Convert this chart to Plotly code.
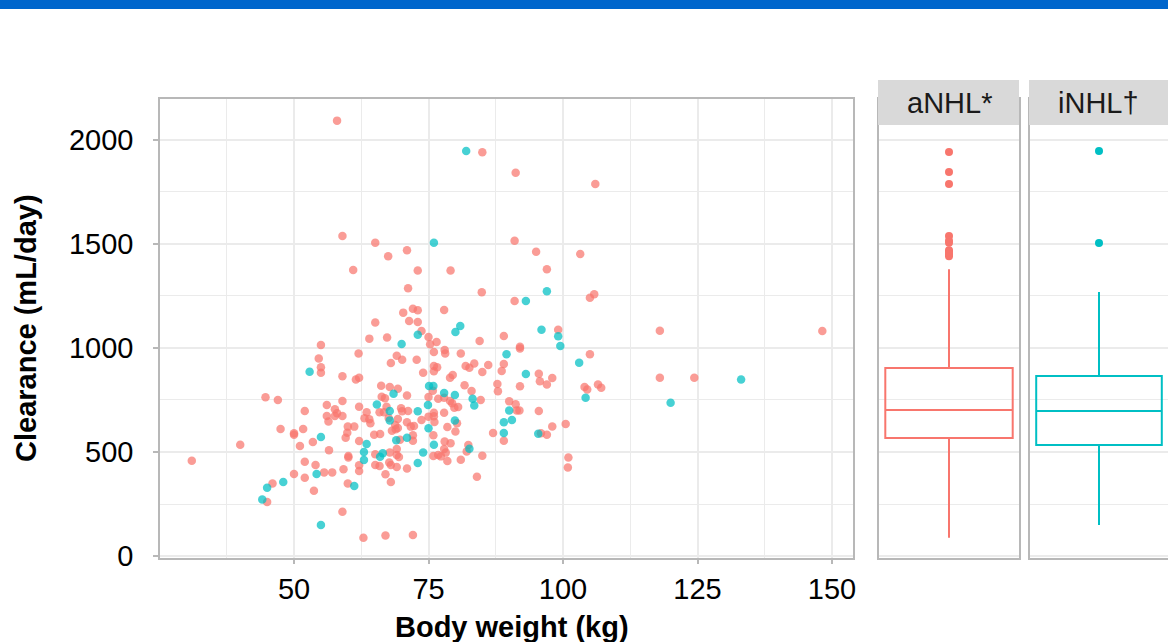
import plotly.graph_objects as go

W, H = 1168, 642

# ---- Scatter data: aNHL (red) ----
anhl_weight = [58.0, 85.0, 59.0, 65.1, 71.0, 67.5, 61.0, 73.0, 79.1, 71.2, 84.9, 72.1, 70.3, 73.0, 77.9, 65.1, 71.4, 73.0,
               91.2, 106.0, 91.0, 95.0, 103.2, 97.0, 91.0, 105.8, 105.0,
               99.1, 118.0, 148.2, 89.0, 92.0, 92.0, 105.0, 89.0, 88.6, 95.5, 98.0, 95.7, 97.0, 92.0, 118.0, 124.4,
               104.0, 104.5, 106.5, 107.1, 90.0, 91.2, 91.4, 91.9, 95.5, 98.0, 100.5, 95.9, 97.0, 89.0, 101.0, 100.9,
               73.7, 75.0, 76.5, 75.3, 64.0, 67.3, 84.5, 55.0, 62.0, 78.0, 78.1, 76.0, 81.0, 69.1, 70.1, 72.8, 68.0,
               54.6, 55.0, 55.0, 59.0, 61.5, 62.1, 76.0, 76.6, 76.0, 74.0, 79.5, 79.0, 81.9, 82.6, 83.5, 86.1, 85.0,
               81.7, 87.8, 87.9, 83.0, 75.8, 66.2, 67.8, 69.3, 71.0, 66.3, 66.9, 75.0, 76.8, 77.9, 79.0, 84.7, 79.4,
               80.5, 79.8, 44.7, 47.0, 56.1, 59.0, 52.0, 57.6, 58.0, 56.1, 57.6, 59.0, 56.4, 62.1, 63.5, 63.1, 64.0,
               64.2, 67.2, 66.7, 65.9, 67.6, 69.9, 70.1, 71.2, 69.3, 71.0, 72.3, 71.7, 73.7, 75.0, 76.0, 76.0, 76.1,
               77.9, 78.5, 80.3, 80.0, 75.9, 72.1, 72.1, 69.7, 68.9, 68.8, 69.3, 68.2, 66.0, 64.9, 62.1, 60.0, 61.2,
               59.9, 59.6, 60.1, 60.1, 65.1, 65.1, 65.9, 67.8, 69.1, 69.5, 69.1, 67.7, 68.0, 69.1, 71.0, 78.0, 79.1,
               77.9, 78.2, 76.8, 77.3, 75.9, 78.5, 81.0, 82.4, 82.1, 85.0, 84.0, 87.0, 62.1, 62.1, 59.2, 57.1, 55.6,
               54.0, 52.0, 53.5, 56.5, 51.1, 51.7, 50.0, 50.0, 47.5, 40.0, 31.0, 52.0, 50.0, 53.7, 46.0, 45.0, 60.0,
               59.0, 62.9, 67.0, 72.1, 68.0, 67.0]
anhl_clear = [2093, 1941, 1538, 1506, 1470, 1441, 1375, 1372, 1372, 1287, 1268, 1189, 1170, 1181, 1183, 1122, 1130, 1125,
              1843, 1788, 1516, 1463, 1452, 1378, 1226, 1258, 1242,
              1088, 1083, 1082, 1058, 1006, 998, 970, 923, 889, 876, 856, 840, 825, 816, 857, 857,
              812, 800, 825, 809, 744, 729, 699, 699, 697, 623, 635, 590, 583, 554, 473, 426,
              1082, 1053, 1029, 1018, 1045, 1050, 1034, 1014, 974, 990, 974, 981, 974, 963, 944, 944, 928,
              950, 907, 881, 864, 848, 857, 913, 907, 888, 881, 870, 857, 913, 905, 925, 918, 885,
              821, 827, 792, 793, 795, 819, 812, 804, 772, 766, 758, 764, 756, 761, 745, 750, 734,
              716, 713, 763, 750, 726, 745, 697, 705, 686, 673, 673, 673, 647, 718, 691, 662, 657,
              638, 718, 691, 691, 663, 710, 696, 697, 659, 643, 625, 622, 654, 670, 689, 672, 644,
              689, 620, 638, 598, 580, 580, 554, 559, 609, 630, 615, 602, 587, 583, 553, 622, 622,
              593, 569, 481, 473, 489, 438, 433, 498, 486, 476, 514, 450, 438, 428, 421, 551, 542,
              514, 497, 486, 479, 481, 457, 463, 534, 502, 482, 381, 591, 436, 409, 417, 402, 402,
              438, 453, 548, 508, 529, 611, 583, 590, 611, 535, 458, 376, 394, 314, 349, 260, 349,
              213, 88, 99, 101, 356, 393]

# ---- Scatter data: iNHL (teal) ----
inhl_weight = [82.0, 76.0, 80.9, 97.0, 93.1, 96.0, 99.1, 99.5, 89.5, 103.0, 93.1, 133.1, 104.2, 120.0, 90.0, 89.0,
               90.5, 89.0, 95.4, 80.0, 73.0, 70.0, 52.9, 75.1, 75.9, 68.5, 77.9, 79.9, 83.2, 83.5, 65.4, 67.8,
               67.8, 73.0, 74.9, 75.0, 79.9, 71.0, 69.0, 63.5, 63.0, 63.0, 66.0, 66.5, 73.0, 74.0, 76.0, 82.6,
               54.2, 55.0, 48.0, 45.0, 44.1, 61.2, 55.0]
inhl_clear = [1947, 1506, 1106, 1273, 1226, 1088, 1056, 1010, 970, 929, 875, 848, 761, 737, 700, 643,
              654, 591, 588, 1077, 1064, 1019, 886, 817, 817, 780, 784, 774, 756, 723, 728, 697,
              652, 696, 726, 614, 651, 569, 556, 538, 500, 462, 477, 494, 447, 498, 535, 516,
              394, 572, 356, 328, 272, 337, 149]

# ---- Box plot summaries read from the facets ----
box_groups = ["aNHL*", "iNHL†"]
box_q1 = [567, 534]
box_median = [702, 697]
box_q3 = [904, 865]
box_lower = [88, 149]
box_upper = [1378, 1269]
anhl_outliers = [1942, 1846, 1788, 1538, 1516, 1506, 1470, 1463, 1452, 1441]
inhl_outliers = [1947, 1505]

x_ticks = [50, 75, 100, 125, 150]
x_minor = [37.5, 62.5, 87.5, 112.5, 137.5]
y_ticks = [0, 500, 1000, 1500, 2000]
y_minor = [250, 750, 1250, 1750]

RED = "#F8766D"
TEAL = "#00BFC4"
GRID = "#EBEBEB"
BORDER = "#B8B8B8"
FONT = "Liberation Sans, Arial, sans-serif"
FS = 29


def px_x(p):
    return p / W


def px_y(p):
    return 1 - p / H


fig = go.Figure()

fig.add_trace(go.Scatter(x=anhl_weight, y=anhl_clear, mode="markers",
                         marker=dict(color=RED, size=8.5, opacity=0.72, line=dict(width=0)),
                         xaxis="x", yaxis="y", showlegend=False))
fig.add_trace(go.Scatter(x=inhl_weight, y=inhl_clear, mode="markers",
                         marker=dict(color=TEAL, size=8.5, opacity=0.72, line=dict(width=0)),
                         xaxis="x", yaxis="y", showlegend=False))

colors = [RED, TEAL]
outs = [anhl_outliers, inhl_outliers]
for i in range(2):
    xa = "x%d" % (i + 2)
    ya = "y%d" % (i + 2)
    fig.add_trace(go.Box(x=[0], q1=[box_q1[i]], median=[box_median[i]], q3=[box_q3[i]],
                         lowerfence=[box_lower[i]], upperfence=[box_upper[i]],
                         width=0.91, whiskerwidth=0, fillcolor="rgba(255,255,255,0)",
                         line=dict(color=colors[i], width=2), boxpoints=False,
                         xaxis=xa, yaxis=ya, showlegend=False, name=box_groups[i]))
    fig.add_trace(go.Scatter(x=[0] * len(outs[i]), y=outs[i], mode="markers",
                             marker=dict(color=colors[i], size=8, line=dict(width=0)),
                             xaxis=xa, yaxis=ya, showlegend=False))

ydom = [px_y(558), px_y(99)]
yrange = [-9.6, 2197]

common_y = dict(domain=ydom, range=yrange, tickvals=y_ticks, showgrid=True, gridcolor=GRID, gridwidth=1.5,
                minor=dict(tickvals=y_minor, showgrid=True, gridcolor=GRID, gridwidth=1.2, ticks=""),
                zeroline=False, showline=True, linecolor=BORDER, linewidth=1.5, mirror=True,
                automargin=False)

fig.update_layout(
    template="none",
    width=W, height=H, margin=dict(l=0, r=0, t=0, b=0, pad=0, autoexpand=False),
    paper_bgcolor="white", plot_bgcolor="white",
    font=dict(family=FONT, size=FS, color="#000000"),
    xaxis=dict(domain=[px_x(160), px_x(853)], range=[25.09, 153.9], tickvals=x_ticks,
               ticks="outside", ticklen=4, tickcolor=BORDER, tickwidth=1.5,
               showgrid=True, gridcolor=GRID, gridwidth=1.5,
               minor=dict(tickvals=x_minor, showgrid=True, gridcolor=GRID, gridwidth=1.2, ticks=""),
               zeroline=False, showline=True, linecolor=BORDER, linewidth=1.5, mirror=True,
               tickfont=dict(size=FS, color="#000000"), anchor="y", automargin=False),
    yaxis=dict(**common_y, ticks="outside", ticklen=5, tickcolor=BORDER, tickwidth=1.5,
               tickfont=dict(size=FS, color="#000000"), anchor="x", ticklabelstandoff=14),
    xaxis2=dict(domain=[px_x(879), px_x(1019)], range=[-0.5, 0.5], showticklabels=False, ticks="",
                showgrid=False, zeroline=False, showline=True, linecolor=BORDER, linewidth=1.5,
                mirror=True, anchor="y2", automargin=False),
    yaxis2=dict(**common_y, showticklabels=False, ticks="", anchor="x2"),
    xaxis3=dict(domain=[px_x(1030), 1.0], range=[-0.5, 0.5], showticklabels=False, ticks="",
                showgrid=False, zeroline=False, showline=True, linecolor=BORDER, linewidth=1.5,
                mirror=True, anchor="y3", automargin=False),
    yaxis3=dict(**common_y, showticklabels=False, ticks="", anchor="x3"),
)

shapes = [
    dict(type="rect", xref="paper", yref="paper", x0=0, x1=1, y0=px_y(9), y1=1,
         fillcolor="#0066CC", line=dict(width=0), layer="above"),
    dict(type="rect", xref="paper", yref="paper", x0=px_x(878), x1=px_x(1019), y0=px_y(125), y1=px_y(80),
         fillcolor="#D9D9D9", line=dict(width=0)),
    dict(type="rect", xref="paper", yref="paper", x0=px_x(1029), x1=1.0, y0=px_y(125), y1=px_y(80),
         fillcolor="#D9D9D9", line=dict(width=0)),
]
fig.update_layout(shapes=shapes)

annotations = [
    dict(text="aNHL*", x=px_x(949), y=px_y(103), xref="paper", yref="paper", showarrow=False,
         font=dict(size=FS, color="#1A1A1A"), xanchor="center", yanchor="middle"),
    dict(text="iNHL†", x=px_x(1098), y=px_y(103), xref="paper", yref="paper", showarrow=False,
         font=dict(size=FS, color="#1A1A1A"), xanchor="center", yanchor="middle"),
    dict(text="<b>Clearance (mL/day)</b>", x=px_x(26), y=px_y(328), xref="paper", yref="paper",
         showarrow=False, textangle=-90, font=dict(size=FS, color="#000000"),
         xanchor="center", yanchor="middle"),
    dict(text="<b>Body weight (kg)</b>", x=px_x(512), y=px_y(627), xref="paper", yref="paper",
         showarrow=False, font=dict(size=FS, color="#000000"), xanchor="center", yanchor="middle"),
]
fig.update_layout(annotations=annotations)

fig.write_html("out.html", config={"displayModeBar": False},
               post_script="document.documentElement.style.margin='0';document.body.style.margin='0';")
